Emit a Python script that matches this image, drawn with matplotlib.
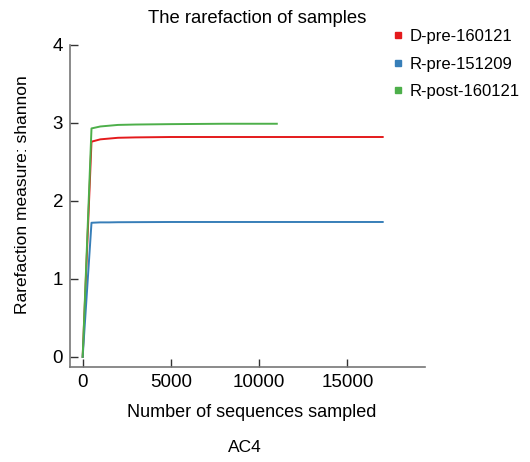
import matplotlib
matplotlib.use("Agg")
import matplotlib.pyplot as plt
from matplotlib.lines import Line2D

plt.rcParams['font.family'] = ['Liberation Sans', 'DejaVu Sans']

# sampling depths and shannon values
depth_full = [0, 500, 1000, 1500, 2000, 3000, 5000, 8000, 11000, 14000, 17000]
d_pre = [0, 2.76, 2.79, 2.80, 2.81, 2.815, 2.82, 2.82, 2.82, 2.82, 2.82]
r_pre = [0, 1.72, 1.725, 1.725, 1.727, 1.728, 1.73, 1.73, 1.73, 1.73, 1.73]

depth_short = [0, 500, 1000, 1500, 2000, 3000, 5000, 8000, 11000]
r_post = [0, 2.93, 2.955, 2.965, 2.975, 2.98, 2.985, 2.99, 2.99]

names = ["D-pre-160121", "R-pre-151209", "R-post-160121"]
colors = ["#e41a1c", "#377eb8", "#4daf4a"]

fig = plt.figure(figsize=(5.3, 4.62), dpi=100)
ax = fig.add_axes([0.132, 0.2056, 0.670, 0.697])

ax.plot(depth_full, d_pre, color=colors[0], lw=1.4)
ax.plot(depth_full, r_pre, color=colors[1], lw=1.4)
ax.plot(depth_short, r_post, color=colors[2], lw=1.4)

ax.set_xlim(-720, 19400)
ax.set_ylim(-0.13, 4)
ax.set_xticks([0, 5000, 10000, 15000])
ax.set_yticks([0, 1, 2, 3, 4])

for s in ["top", "right"]:
    ax.spines[s].set_visible(False)
for s in ["left", "bottom"]:
    ax.spines[s].set_color("#777777")
    ax.spines[s].set_linewidth(1.2)
ax.tick_params(direction="in", length=6, width=1, color="#333333",
               labelsize=13.5, pad=5)

fig.text(0.486, 0.961, "The rarefaction of samples", ha="center",
         va="center", fontsize=13.3)
fig.text(0.042, 0.578, "Rarefaction measure: shannon", ha="center",
         va="center", rotation=90, fontsize=12.5)
fig.text(0.474, 0.108, "Number of sequences sampled", ha="center",
         va="center", fontsize=13)
fig.text(0.462, 0.032, "AC4", ha="center", va="center", fontsize=12.5)

handles = [Line2D([], [], ls="none", marker="s", markersize=4.5,
                  color=c) for c in colors]
fig.legend(handles, names, loc="upper left", bbox_to_anchor=(0.728, 0.951),
           frameon=False, fontsize=12, handlelength=0.6, handletextpad=0.4,
           labelspacing=0.74, borderaxespad=0)

fig.savefig("out.png", dpi=100)
